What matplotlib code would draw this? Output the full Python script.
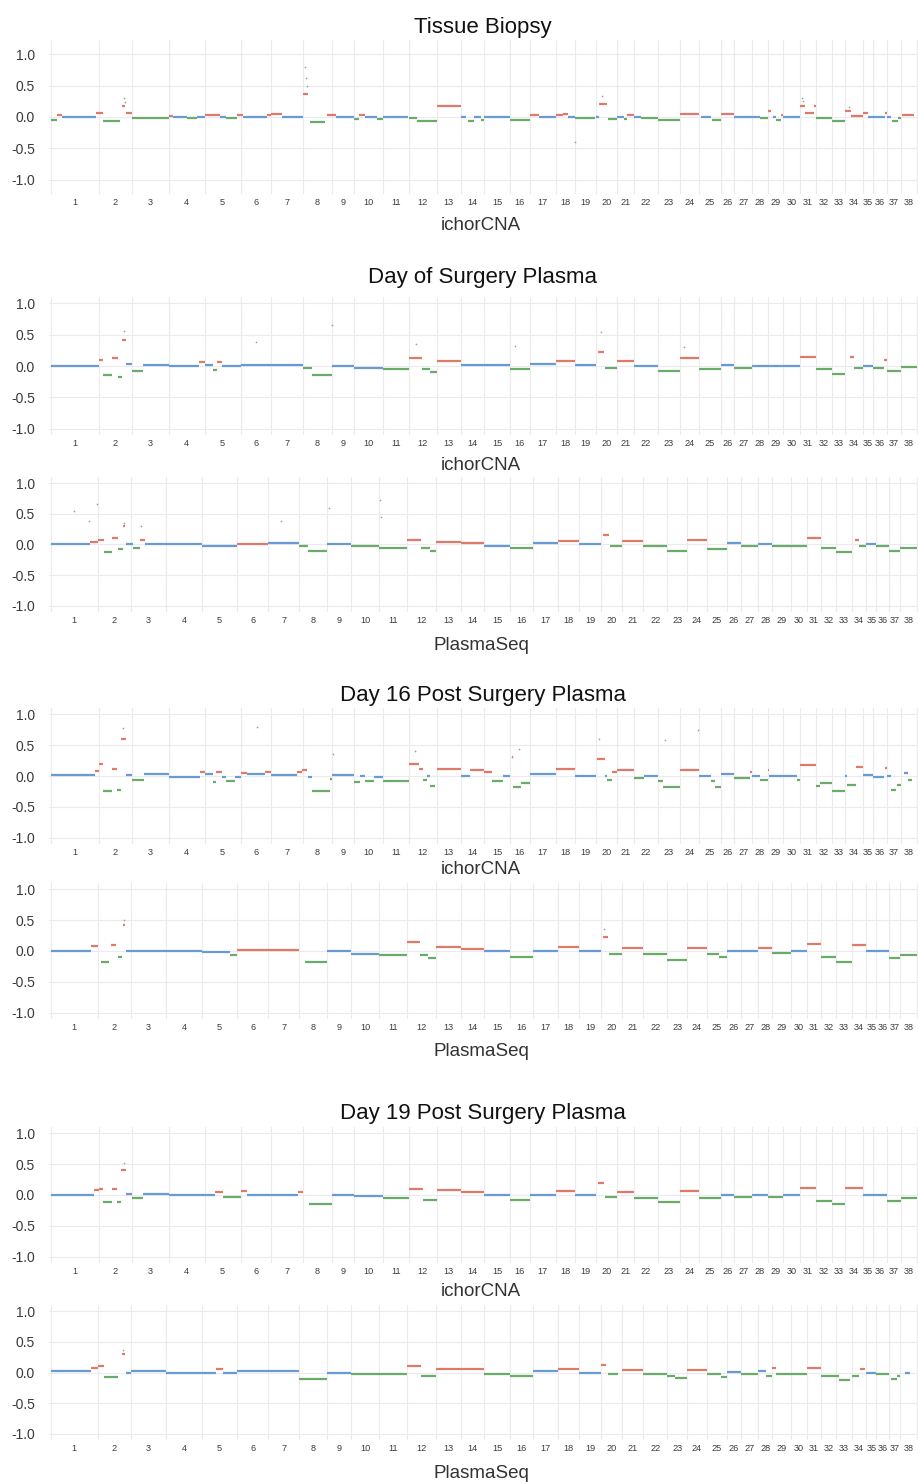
import matplotlib
matplotlib.use("Agg")
import matplotlib.pyplot as plt
import numpy as np

plt.rcParams["font.family"] = ["Liberation Sans", "DejaVu Sans"]

# bins per chromosome (canine autosomes 1-38) for each caller
ICHOR_BINS = [125, 86, 96, 92, 94, 79, 83, 74, 59, 73, 69, 71, 64, 60, 66, 52, 67, 50, 54,
              56, 43, 63, 56, 50, 56, 36, 46, 41, 40, 43, 41, 41, 35, 46, 26, 37, 36, 41]
PLASMASEQ_BINS = [122, 86, 91, 94, 91, 81, 81, 73, 62, 71, 74, 74, 65, 62, 66, 60, 66, 54, 56,
                  54, 56, 63, 52, 50, 52, 38, 44, 36, 49, 42, 37, 39, 41, 37, 26, 32, 30, 43]
CHROM_LABELS = [str(i) for i in range(1, 39)]

# segments: (chromosome, start fraction, end fraction, log2 ratio, call)
TISSUE_ICHOR = [
    (1, 0, .12, -.05, "L"), (1, .12, .23, .03, "G"), (1, .23, .93, 0, "N"), (1, .93, 1, .07, "G"),
    (2, 0, .12, .07, "G"), (2, .12, .65, -.07, "L"), (2, .7, .8, .17, "G"), (2, .83, 1, .06, "G"),
    (3, 0, 1, -.02, "L"),
    (4, 0, .1, .02, "G"), (4, .1, .5, 0, "N"), (4, .5, .8, -.02, "L"), (4, .8, 1, 0, "N"),
    (5, 0, .42, .03, "G"), (5, .42, .6, 0, "N"), (5, .6, .9, -.02, "L"), (5, .9, 1, .03, "G"),
    (6, 0, .08, .03, "G"), (6, .08, .85, 0, "N"), (6, .85, 1, .03, "G"),
    (7, 0, .35, .05, "G"), (7, .35, 1, 0, "N"),
    (8, 0, .17, .36, "G"), (8, .25, .78, -.08, "L"), (8, .82, 1, .03, "G"),
    (9, 0, .2, .03, "G"), (9, .2, 1, 0, "N"),
    (10, 0, .17, -.03, "L"), (10, .17, .38, .03, "G"), (10, .38, .8, 0, "N"), (10, .8, 1, -.03, "L"),
    (11, 0, .95, 0, "N"),
    (12, 0, .3, -.02, "L"), (12, .3, 1, -.07, "L"),
    (13, 0, 1, .17, "G"),
    (14, 0, .2, 0, "N"), (14, .3, .55, -.07, "L"), (14, .55, .85, 0, "N"), (14, .85, 1, -.05, "L"),
    (15, 0, 1, 0, "N"),
    (16, 0, 1, -.05, "L"),
    (17, 0, .35, .03, "G"), (17, .35, 1, 0, "N"),
    (18, 0, .4, .03, "G"), (18, .4, .65, .05, "G"), (18, .65, 1, 0, "N"),
    (19, 0, .95, -.02, "L"),
    (20, 0, .15, 0, "N"), (20, .15, .52, .21, "G"), (20, .57, 1, -.03, "L"),
    (21, 0, .4, 0, "N"), (21, .4, .6, -.03, "L"), (21, .6, 1, .03, "G"),
    (22, 0, .3, 0, "N"), (22, .3, 1, -.02, "L"),
    (23, 0, 1, -.05, "L"),
    (24, 0, 1, .05, "G"),
    (25, .1, .55, 0, "N"), (25, .6, 1, -.04, "L"),
    (26, 0, 1, .05, "G"),
    (27, 0, 1, 0, "N"),
    (28, 0, .5, 0, "N"), (28, .5, 1, -.02, "L"),
    (29, 0, .2, .1, "G"), (29, .3, .5, 0, "N"), (29, .5, .85, -.05, "L"), (29, .85, 1, .03, "G"),
    (30, 0, 1, 0, "N"),
    (31, 0, .3, .18, "G"), (31, .3, .9, .07, "G"), (31, .9, 1, .17, "G"),
    (32, 0, 1, -.02, "L"),
    (33, 0, 1, -.07, "L"),
    (34, 0, .35, .1, "G"), (34, .35, 1, .02, "G"),
    (35, 0, .55, .07, "G"), (35, .55, 1, 0, "N"),
    (36, 0, .85, 0, "N"), (36, .85, 1, .07, "G"),
    (37, 0, .3, 0, "N"), (37, .35, .8, -.06, "L"), (37, .8, 1, -.02, "L"),
    (38, .1, .8, .03, "G"),
]

SURGERY_ICHOR = [
    (1, 0, 1, 0, "N"),
    (2, 0, .13, .09, "G"), (2, .13, .39, -.15, "L"), (2, .39, .57, .13, "G"), (2, .57, .71, -.17, "L"),
    (2, .71, .81, .42, "G"), (2, .81, 1, .03, "N"),
    (3, 0, .3, -.08, "L"), (3, .3, 1, .02, "N"),
    (4, 0, .85, 0, "N"), (4, .85, 1, .07, "G"),
    (5, 0, .23, .02, "N"), (5, .23, .34, -.06, "L"), (5, .34, .48, .06, "G"), (5, .48, 1, 0, "N"),
    (6, 0, 1, .02, "N"),
    (7, 0, 1, .02, "N"),
    (8, 0, .3, -.03, "L"), (8, .3, 1, -.15, "L"),
    (9, 0, 1, 0, "N"),
    (10, 0, 1, -.03, "N"),
    (11, 0, 1, -.05, "L"),
    (12, 0, .48, .12, "G"), (12, .48, .78, -.05, "L"), (12, .78, 1, -.1, "L"),
    (13, 0, 1, .08, "G"),
    (14, 0, 1, .02, "N"),
    (15, 0, 1, .02, "N"),
    (16, 0, 1, -.05, "L"),
    (17, 0, 1, .03, "N"),
    (18, 0, 1, .08, "G"),
    (19, 0, 1, .01, "N"),
    (20, .1, .4, .22, "G"), (20, .45, 1, -.03, "L"),
    (21, 0, 1, .08, "G"),
    (22, 0, 1, 0, "N"),
    (23, 0, 1, -.08, "L"),
    (24, 0, 1, .12, "G"),
    (25, 0, 1, -.05, "L"),
    (26, 0, 1, .02, "N"),
    (27, 0, 1, -.03, "L"),
    (28, 0, 1, 0, "N"),
    (29, 0, 1, 0, "N"),
    (30, 0, 1, 0, "N"),
    (31, 0, 1, .15, "G"),
    (32, 0, 1, -.05, "L"),
    (33, 0, 1, -.12, "L"),
    (34, .3, .5, .15, "G"), (34, .5, 1, -.03, "L"),
    (35, 0, 1, 0, "N"),
    (36, 0, .8, -.03, "L"), (36, .8, 1, .1, "G"),
    (37, 0, 1, -.08, "L"),
    (38, 0, 1, -.02, "L"),
]

SURGERY_PLASMASEQ = [
    (1, 0, .83, 0, "N"), (1, .83, 1, .04, "G"),
    (2, 0, .2, .08, "G"), (2, .2, .42, -.12, "L"), (2, .42, .6, .1, "G"), (2, .6, .75, -.07, "L"),
    (2, .75, .83, .3, "G"), (2, .85, 1, 0, "N"),
    (3, 0, .05, 0, "N"), (3, .05, .25, -.06, "L"), (3, .25, .4, .08, "G"), (3, .4, 1, .01, "N"),
    (4, 0, 1, .01, "N"),
    (5, 0, 1, -.02, "N"),
    (6, 0, 1, .015, "G"),
    (7, 0, 1, .02, "N"),
    (8, 0, .3, -.03, "L"), (8, .3, 1, -.11, "L"),
    (9, 0, 1, 0, "N"),
    (10, 0, 1, -.03, "L"),
    (11, 0, 1, -.05, "L"),
    (12, 0, .5, .08, "G"), (12, .5, .8, -.06, "L"), (12, .8, 1, -.1, "L"),
    (13, 0, 1, .04, "G"),
    (14, 0, 1, .03, "G"),
    (15, 0, 1, -.02, "N"),
    (16, 0, 1, -.05, "L"),
    (17, 0, 1, .03, "N"),
    (18, 0, 1, .05, "G"),
    (19, 0, 1, 0, "N"),
    (20, .1, .4, .15, "G"), (20, .45, 1, -.03, "L"),
    (21, 0, 1, .05, "G"),
    (22, 0, 1, -.03, "L"),
    (23, 0, 1, -.1, "L"),
    (24, 0, 1, .07, "G"),
    (25, 0, 1, -.07, "L"),
    (26, 0, 1, .02, "N"),
    (27, 0, 1, -.02, "L"),
    (28, 0, 1, 0, "N"),
    (29, 0, 1, -.03, "L"),
    (30, 0, 1, -.02, "L"),
    (31, 0, 1, .1, "G"),
    (32, 0, 1, -.05, "L"),
    (33, 0, 1, -.12, "L"),
    (34, .2, .5, .08, "G"), (34, .5, 1, -.03, "L"),
    (35, 0, 1, 0, "N"),
    (36, 0, 1, -.03, "L"),
    (37, 0, 1, -.1, "L"),
    (38, 0, 1, -.05, "L"),
]

DAY16_ICHOR = [
    (1, 0, .92, .01, "N"), (1, .92, 1, .08, "G"),
    (2, 0, .13, .19, "G"), (2, .13, .38, -.24, "L"), (2, .38, .55, .11, "G"), (2, .55, .68, -.22, "L"),
    (2, .68, .83, .6, "G"), (2, .83, 1, .02, "N"),
    (3, 0, .32, -.07, "L"), (3, .32, 1, .03, "N"),
    (4, 0, .87, -.01, "N"), (4, .87, 1, .07, "G"),
    (5, 0, .24, .03, "N"), (5, .24, .33, -.1, "L"), (5, .33, .47, .07, "G"), (5, .47, .6, -.01, "N"),
    (5, .6, .85, -.08, "L"), (5, .85, 1, -.01, "N"),
    (6, 0, .2, .05, "G"), (6, .2, .8, .03, "N"), (6, .8, 1, .07, "G"),
    (7, 0, .82, .02, "N"), (7, .82, .95, .06, "G"), (7, .95, 1, .1, "G"),
    (8, 0, .12, .1, "G"), (8, .18, .3, -.01, "N"), (8, .3, .93, -.24, "L"), (8, .93, 1, -.05, "L"),
    (9, 0, 1, .02, "N"),
    (10, 0, .2, -.1, "L"), (10, .2, .38, 0, "N"), (10, .38, .68, -.08, "L"), (10, .68, 1, -.01, "N"),
    (11, 0, 1, -.08, "L"),
    (12, 0, .35, .2, "G"), (12, .35, .5, .12, "G"), (12, .5, .65, -.07, "L"), (12, .65, .78, 0, "N"),
    (12, .78, .96, -.16, "L"),
    (13, 0, 1, .12, "G"),
    (14, 0, .4, 0, "N"), (14, .4, 1, .09, "G"),
    (15, 0, .3, .07, "G"), (15, .3, .75, -.08, "L"), (15, .75, 1, 0, "N"),
    (16, .1, .16, .3, "G"), (16, .16, .55, -.18, "L"), (16, .55, 1, -.12, "L"),
    (17, 0, 1, .04, "N"),
    (18, 0, 1, .12, "G"),
    (19, 0, 1, 0, "N"),
    (20, .08, .42, .28, "G"), (20, .42, .54, 0, "N"), (20, .54, .74, -.07, "L"), (20, .74, 1, .07, "G"),
    (21, 0, 1, .1, "G"),
    (22, 0, .4, -.04, "L"), (22, .4, 1, 0, "N"),
    (23, 0, .22, -.08, "L"), (23, .22, 1, -.17, "L"),
    (24, 0, 1, .1, "G"),
    (25, 0, .55, 0, "N"), (25, .55, .75, -.08, "L"), (25, .75, 1, -.18, "L"),
    (26, 0, 1, .03, "N"),
    (27, 0, .9, -.03, "L"), (27, .9, 1, .07, "G"),
    (28, 0, .5, 0, "N"), (28, .5, 1, -.06, "L"),
    (29, 0, .05, .1, "G"), (29, .1, 1, 0, "N"),
    (30, 0, .85, 0, "N"), (30, .85, 1, -.06, "L"),
    (31, 0, 1, .18, "G"),
    (32, 0, .3, -.16, "L"), (32, .3, 1, -.11, "L"),
    (33, 0, 1, -.24, "L"),
    (34, 0, .1, 0, "N"), (34, .1, .6, -.15, "L"), (34, .6, 1, .14, "G"),
    (35, 0, 1, .02, "N"),
    (36, 0, .8, -.02, "N"), (36, .85, 1, .13, "G"),
    (37, 0, .3, 0, "N"), (37, .3, .65, -.22, "L"), (37, .7, 1, -.14, "L"),
    (38, .2, .45, .05, "N"), (38, .45, .7, -.06, "L"),
]

DAY16_PLASMASEQ = [
    (1, 0, .85, 0, "N"), (1, .85, 1, .08, "G"),
    (2, .1, .35, -.17, "L"), (2, .4, .55, .1, "G"), (2, .6, .72, -.1, "L"), (2, .75, .82, .42, "G"),
    (2, .85, 1, 0, "N"),
    (3, 0, 1, 0, "N"),
    (4, 0, 1, 0, "N"),
    (5, 0, .8, -.02, "N"), (5, .8, 1, -.07, "L"),
    (6, 0, 1, .02, "G"),
    (7, 0, 1, .02, "G"),
    (8, .2, 1, -.17, "L"),
    (9, 0, 1, 0, "N"),
    (10, 0, 1, -.05, "N"),
    (11, 0, 1, -.07, "L"),
    (12, 0, .45, .15, "G"), (12, .45, .75, -.07, "L"), (12, .75, 1, -.12, "L"),
    (13, 0, 1, .06, "G"),
    (14, 0, 1, .04, "G"),
    (15, 0, 1, 0, "N"),
    (16, 0, 1, -.1, "L"),
    (17, 0, 1, 0, "N"),
    (18, 0, 1, .07, "G"),
    (19, 0, 1, 0, "N"),
    (20, .1, .35, .22, "G"), (20, .4, 1, -.05, "L"),
    (21, 0, 1, .05, "G"),
    (22, 0, 1, -.05, "L"),
    (23, 0, 1, -.15, "L"),
    (24, 0, 1, .05, "G"),
    (25, 0, .6, -.05, "L"), (25, .6, 1, -.1, "L"),
    (26, 0, 1, 0, "N"),
    (27, 0, 1, 0, "N"),
    (28, 0, 1, .05, "G"),
    (29, 0, 1, -.03, "L"),
    (30, 0, 1, 0, "N"),
    (31, 0, 1, .12, "G"),
    (32, 0, 1, -.1, "L"),
    (33, 0, 1, -.18, "L"),
    (34, 0, 1, .1, "G"),
    (35, 0, 1, 0, "N"),
    (36, 0, 1, 0, "N"),
    (37, 0, 1, -.12, "L"),
    (38, 0, 1, -.07, "L"),
]

DAY19_ICHOR = [
    (1, 0, .9, 0, "N"), (1, .9, 1, .08, "G"),
    (2, 0, .13, .1, "G"), (2, .13, .38, -.12, "L"), (2, .38, .55, .1, "G"), (2, .55, .68, -.12, "L"),
    (2, .68, .82, .4, "G"), (2, .83, 1, .02, "N"),
    (3, 0, .3, -.05, "L"), (3, .3, 1, .02, "N"),
    (4, 0, 1, 0, "N"),
    (5, 0, .3, 0, "N"), (5, .3, .5, .05, "G"), (5, .5, 1, -.03, "L"),
    (6, 0, .2, .07, "G"), (6, .2, 1, 0, "N"),
    (7, 0, .85, 0, "N"), (7, .85, 1, .05, "G"),
    (8, .2, 1, -.15, "L"),
    (9, 0, 1, 0, "N"),
    (10, 0, 1, -.02, "N"),
    (11, 0, 1, -.05, "L"),
    (12, 0, .5, .1, "G"), (12, .5, 1, -.08, "L"),
    (13, 0, 1, .08, "G"),
    (14, 0, 1, .05, "G"),
    (15, 0, 1, 0, "N"),
    (16, 0, 1, -.08, "L"),
    (17, 0, 1, 0, "N"),
    (18, 0, 1, .07, "G"),
    (19, 0, 1, 0, "N"),
    (20, .1, .4, .2, "G"), (20, .45, 1, -.04, "L"),
    (21, 0, 1, .05, "G"),
    (22, 0, 1, -.05, "L"),
    (23, 0, 1, -.12, "L"),
    (24, 0, 1, .07, "G"),
    (25, 0, 1, -.05, "L"),
    (26, 0, 1, 0, "N"),
    (27, 0, 1, -.03, "L"),
    (28, 0, 1, 0, "N"),
    (29, 0, 1, -.03, "L"),
    (30, 0, 1, 0, "N"),
    (31, 0, 1, .12, "G"),
    (32, 0, 1, -.1, "L"),
    (33, 0, 1, -.15, "L"),
    (34, 0, 1, .12, "G"),
    (35, 0, 1, 0, "N"),
    (36, 0, 1, 0, "N"),
    (37, 0, 1, -.1, "L"),
    (38, 0, 1, -.05, "L"),
]

DAY19_PLASMASEQ = [
    (1, 0, .85, .02, "N"), (1, .85, 1, .08, "G"),
    (2, 0, .2, .1, "G"), (2, .2, .6, -.08, "L"), (2, .72, .82, .3, "G"), (2, .85, 1, 0, "N"),
    (3, 0, 1, .02, "N"),
    (4, 0, 1, 0, "N"),
    (5, 0, .4, 0, "N"), (5, .4, .6, .05, "G"), (5, .6, 1, 0, "N"),
    (6, 0, 1, .02, "N"),
    (7, 0, 1, .02, "N"),
    (8, 0, 1, -.1, "L"),
    (9, 0, 1, 0, "N"),
    (10, 0, 1, -.02, "L"),
    (11, 0, 1, -.03, "L"),
    (12, 0, .5, .1, "G"), (12, .5, 1, -.05, "L"),
    (13, 0, 1, .05, "G"),
    (14, 0, 1, .05, "G"),
    (15, 0, 1, -.02, "L"),
    (16, 0, 1, -.05, "L"),
    (17, 0, 1, .02, "N"),
    (18, 0, 1, .05, "G"),
    (19, 0, 1, 0, "N"),
    (20, 0, .25, .12, "G"), (20, .35, .85, -.03, "L"),
    (21, 0, 1, .045, "G"),
    (22, 0, 1, -.02, "L"),
    (23, 0, .4, -.05, "L"), (23, .4, 1, -.09, "L"),
    (24, 0, 1, .045, "G"),
    (25, 0, .7, -.02, "L"), (25, .7, 1, -.07, "L"),
    (26, 0, 1, .01, "N"),
    (27, 0, 1, -.03, "L"),
    (28, 0, .6, .02, "N"), (28, .6, 1, -.05, "L"),
    (29, 0, .2, .07, "G"), (29, .2, 1, -.02, "L"),
    (30, 0, 1, -.02, "L"),
    (31, 0, 1, .08, "G"),
    (32, 0, 1, -.055, "L"),
    (33, 0, .2, -.06, "L"), (33, .2, .85, -.13, "L"),
    (34, 0, .5, -.05, "L"), (34, .55, .9, .05, "G"),
    (35, 0, 1, 0, "N"),
    (36, 0, 1, -.03, "L"),
    (37, .25, .7, -.1, "L"), (37, .7, 1, -.05, "L"),
    (38, .3, .6, 0, "N"),
]

# isolated bins far from their segment: (chromosome, position fraction, log2 ratio)
TISSUE_ICHOR_OUT = [(8, .06, .8), (8, .09, .62), (8, .12, .5), (2, .75, .3), (2, .78, .24),
                    (20, .3, .33), (31, .12, .3), (31, .2, .26), (19, .02, -.4), (34, .2, .16)]
SURGERY_ICHOR_OUT = [(9, .03, .65), (2, .75, .56), (6, .5, .38), (20, .25, .55), (12, .25, .35),
                     (16, .25, .32), (24, .2, .3)]
SURGERY_PLASMASEQ_OUT = [(1, .5, .54), (1, .82, .39), (1, .99, .66), (2, .78, .35), (3, .3, .3),
                         (9, .05, .6), (11, .05, .73), (11, .08, .44), (7, .4, .38)]
DAY16_ICHOR_OUT = [(6, .55, .8), (2, .72, .78), (9, .05, .36), (12, .2, .4), (16, .45, .44),
                   (20, .15, .6), (23, .3, .58), (24, .95, .74), (16, .12, .3)]
DAY16_PLASMASEQ_OUT = [(2, .78, .5), (20, .15, .35)]
DAY19_ICHOR_OUT = [(2, .76, .52)]
DAY19_PLASMASEQ_OUT = [(2, .76, .37)]

CALL_COLORS = {"N": "#6a9ad6", "G": "#e07a68", "L": "#6aab6a"}
Y_TICKS = [-1.0, -0.5, 0.0, 0.5, 1.0]

FIG_W, FIG_H = 918, 1483


def add_px_axes(fig, top, bottom, left=49, right=918):
    return fig.add_axes([left / FIG_W, 1 - bottom / FIG_H,
                         (right - left) / FIG_W, (bottom - top) / FIG_H])


def draw_panel(ax, segments, outliers, bins, ylim=1.1):
    bins = np.asarray(bins)
    edges = np.concatenate([[0], np.cumsum(bins)])
    total = edges[-1]
    for chrom, f0, f1, val, call in segments:
        start = edges[chrom - 1]
        n = bins[chrom - 1]
        ax.hlines(val, start + f0 * n, start + f1 * n,
                  color=CALL_COLORS[call], linewidth=1.6, zorder=3)
    ox = [edges[c - 1] + f * bins[c - 1] for c, f, _ in outliers]
    oy = [v for _, _, v in outliers]
    ax.scatter(ox, oy, s=1.5, color="#9d9d9d", linewidths=0, zorder=2)
    ax.set_xlim(-0.002 * total, total * 1.0015)
    ax.set_ylim(-ylim, ylim)
    ax.set_yticks(Y_TICKS)
    ax.set_yticklabels([f"{t:.1f}" for t in Y_TICKS])
    ax.set_xticks((edges[:-1] + edges[1:]) / 2)
    ax.set_xticklabels(CHROM_LABELS)
    ax.set_xticks(edges, minor=True)
    ax.grid(axis="y", which="major", color="#ebebef", linewidth=0.8)
    ax.grid(axis="x", which="minor", color="#ebebef", linewidth=0.8)
    ax.tick_params(axis="both", which="both", length=0)
    ax.tick_params(axis="y", labelsize=10, labelcolor="#3a3a3a", pad=10)
    ax.tick_params(axis="x", labelsize=6.6, labelcolor="#3c3c3c", pad=3)
    for side in ax.spines.values():
        side.set_visible(False)
    ax.set_axisbelow(True)


fig = plt.figure(figsize=(FIG_W / 100, FIG_H / 100), dpi=100)

# (segments, outliers, bins, axes top px, axes bottom px, y half-range)
panels = [
    (TISSUE_ICHOR, TISSUE_ICHOR_OUT, ICHOR_BINS, 40, 194, 1.23),
    (SURGERY_ICHOR, SURGERY_ICHOR_OUT, ICHOR_BINS, 297, 435, 1.1),
    (SURGERY_PLASMASEQ, SURGERY_PLASMASEQ_OUT, PLASMASEQ_BINS, 477, 612, 1.1),
    (DAY16_ICHOR, DAY16_ICHOR_OUT, ICHOR_BINS, 708, 844, 1.1),
    (DAY16_PLASMASEQ, DAY16_PLASMASEQ_OUT, PLASMASEQ_BINS, 883, 1019, 1.1),
    (DAY19_ICHOR, DAY19_ICHOR_OUT, ICHOR_BINS, 1127, 1263, 1.1),
    (DAY19_PLASMASEQ, DAY19_PLASMASEQ_OUT, PLASMASEQ_BINS, 1305, 1440, 1.1),
]
for segs, outs, bins, top, bottom, lim in panels:
    ax = add_px_axes(fig, top, bottom)
    draw_panel(ax, segs, outs, bins, lim)

titles = [("Tissue Biopsy", 28), ("Day of Surgery Plasma", 277),
          ("Day 16 Post Surgery Plasma", 696), ("Day 19 Post Surgery Plasma", 1113)]
for text, y in titles:
    fig.text(483 / FIG_W, 1 - y / FIG_H, text, ha="center", va="center",
             fontsize=16, color="#111111")

xlabels = [("ichorCNA", 226), ("ichorCNA", 465), ("PlasmaSeq", 645), ("ichorCNA", 870),
           ("PlasmaSeq", 1051), ("ichorCNA", 1292), ("PlasmaSeq", 1473)]
for text, y in xlabels:
    fig.text(481 / FIG_W, 1 - y / FIG_H, text, ha="center", va="center",
             fontsize=13.5, color="#333333")

fig.savefig("out.png", dpi=100)
